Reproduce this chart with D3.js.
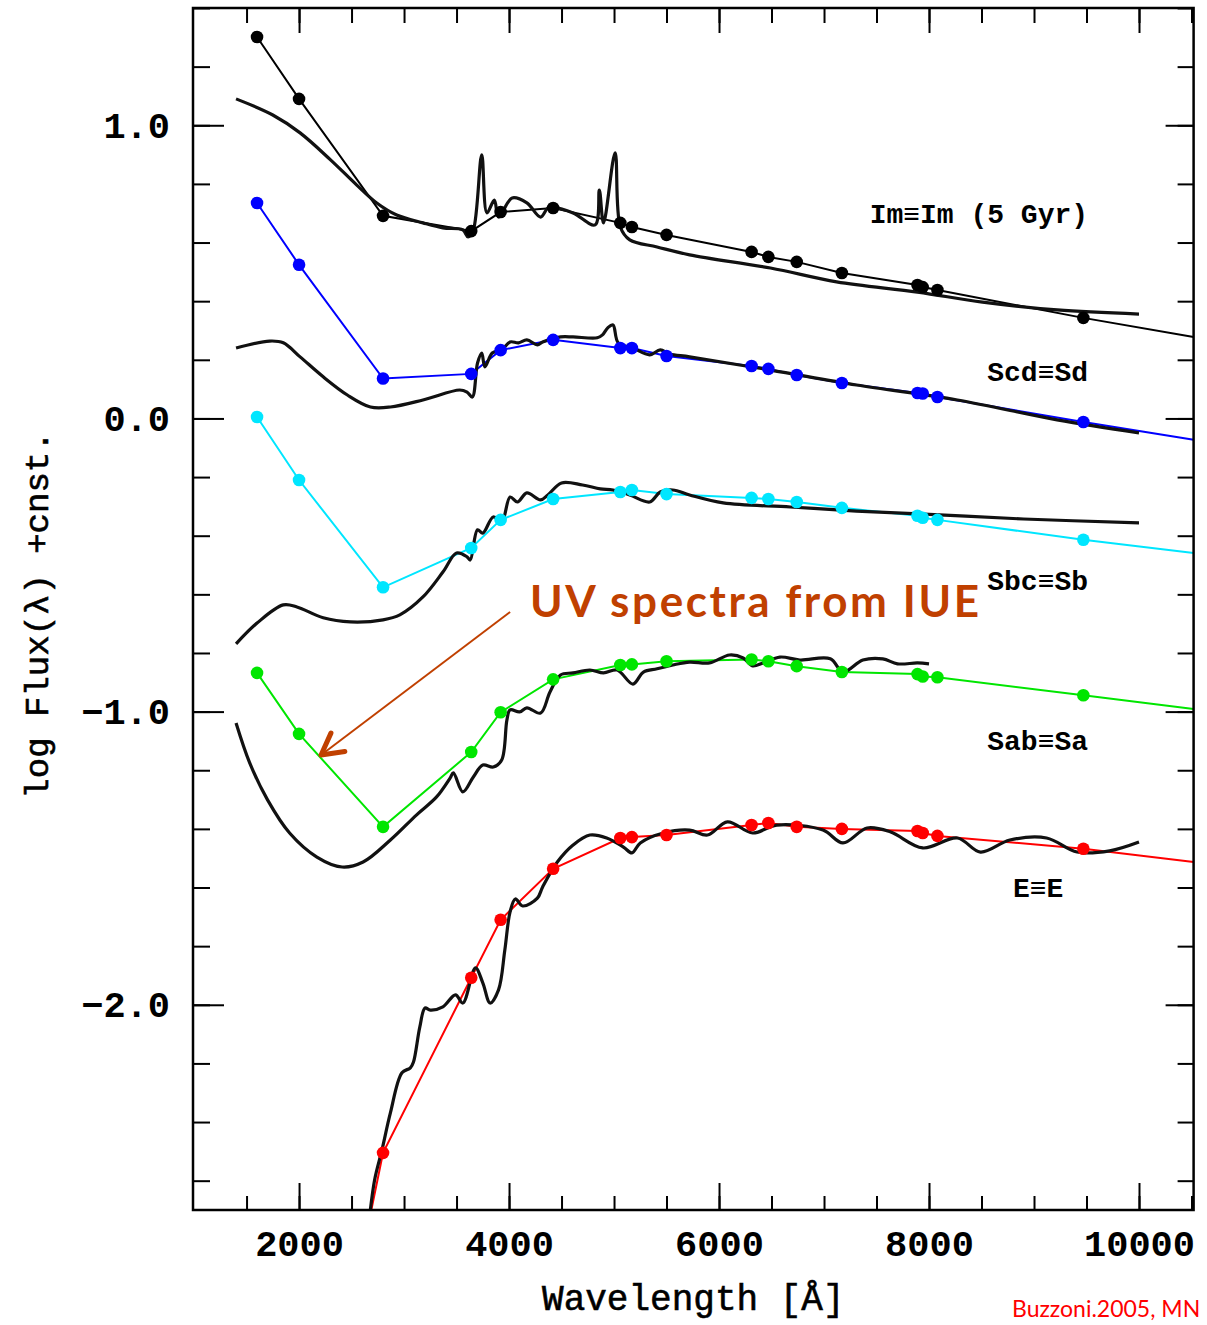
<!DOCTYPE html>
<html>
<head>
<meta charset="utf-8">
<script src="https://cdn.jsdelivr.net/npm/d3@7"></script>
<style>
  body { margin: 0; background: #fff; }
  svg { display: block; }
</style>
</head>
<body>
<div id="chart"></div>
<script>
// broad-band points: wavelengths in Angstrom
const bandWaves = [1600, 2000, 2800, 3640, 3920, 4420, 5060, 5170, 5500, 6310, 6470, 6740, 7170, 7890, 7940, 8080, 9470];

// log flux (+cnst.) at each band
const imBands  = [1.301, 1.090, 0.691, 0.639, 0.704, 0.718, 0.667, 0.653, 0.626, 0.568, 0.551, 0.534, 0.496, 0.455, 0.448, 0.438, 0.343];
const scdBands = [0.735, 0.524, 0.136, 0.152, 0.233, 0.268, 0.240, 0.240, 0.213, 0.179, 0.169, 0.148, 0.121, 0.087, 0.085, 0.073, -0.012];
const sbcBands = [0.005, -0.210, -0.576, -0.442, -0.346, -0.275, -0.251, -0.244, -0.258, -0.271, -0.275, -0.285, -0.305, -0.332, -0.339, -0.346, -0.414];
const sabBands = [-0.868, -1.076, -1.393, -1.138, -1.002, -0.890, -0.841, -0.839, -0.828, -0.822, -0.828, -0.845, -0.865, -0.872, -0.880, -0.883, -0.944];
const eBands   = [null, null, -2.505, -1.908, -1.710, -1.536, -1.431, -1.428, -1.421, -1.387, -1.380, -1.393, -1.400, -1.407, -1.414, -1.424, -1.468];

// the band lines run on out of the frame on the right (E also below)
const tailWave = 10520;
const bandTails = [0.278, -0.073, -0.459, -0.991, -1.513];
const eHead = [2660, -2.75];

// model spectra [wavelength, log flux]
const imModel = [[1400,1.090],[1750,1.035],[2010,0.974],[2300,0.882],[2550,0.796],[2740,0.735],[2930,0.694],[3180,0.667],
  [3370,0.650],[3560,0.643],[3610,0.619],[3660,0.643],[3740,0.899],[3790,0.701],[3860,0.745],[3900,0.687],[4030,0.752],
  [4170,0.735],[4300,0.687],[4370,0.718],[4420,0.720],[4610,0.701],[4820,0.660],[4860,0.779],[4900,0.667],[5010,0.906],
  [5060,0.653],[5150,0.609],[5410,0.585],[5720,0.558],[6490,0.513],[7120,0.466],[7890,0.431],[8510,0.397],[9220,0.370],[10000,0.356]];

const scdModel = [[1400,0.240],[1720,0.264],[1850,0.258],[2010,0.210],[2230,0.142],[2460,0.080],[2680,0.039],[2870,0.039],
  [3180,0.063],[3530,0.097],[3600,0.090],[3650,0.073],[3700,0.189],[3740,0.223],[3770,0.176],[3840,0.223],[3930,0.234],
  [4010,0.261],[4090,0.258],[4170,0.268],[4270,0.251],[4320,0.261],[4490,0.278],[4610,0.278],[4840,0.275],[4890,0.285],
  [4940,0.309],[4990,0.319],[5040,0.258],[5180,0.240],[5340,0.217],[5440,0.234],[5530,0.220],[5720,0.210],[6490,0.165],
  [7310,0.114],[8270,0.063],[9220,-0.005],[10000,-0.049]];

const sbcModel = [[1400,-0.769],[1600,-0.698],[1850,-0.636],[1980,-0.643],[2230,-0.680],[2490,-0.694],[2800,-0.687],[2960,-0.670],
  [3180,-0.609],[3370,-0.524],[3500,-0.459],[3600,-0.472],[3630,-0.483],[3700,-0.380],[3750,-0.391],[3850,-0.336],[3930,-0.353],
  [4010,-0.268],[4080,-0.285],[4170,-0.254],[4300,-0.278],[4370,-0.261],[4500,-0.220],[4700,-0.227],[4870,-0.240],[4990,-0.244],
  [5150,-0.261],[5340,-0.285],[5440,-0.251],[5560,-0.244],[5720,-0.261],[6040,-0.288],[6680,-0.302],[7310,-0.316],[8100,-0.329],
  [8900,-0.343],[10000,-0.356]];

const sabModel = [[1400,-1.039],[1530,-1.175],[1700,-1.301],[1910,-1.414],[2170,-1.496],[2410,-1.530],[2610,-1.513],[2870,-1.438],
  [3120,-1.352],[3310,-1.291],[3440,-1.226],[3470,-1.209],[3560,-1.274],[3660,-1.223],[3750,-1.182],[3850,-1.189],[3930,-1.165],
  [3980,-1.028],[4010,-0.994],[4100,-1.001],[4170,-0.987],[4300,-1.005],[4390,-0.933],[4490,-0.875],[4610,-0.868],[4770,-0.858],
  [4900,-0.868],[5030,-0.858],[5180,-0.906],[5280,-0.865],[5410,-0.854],[5560,-0.841],[5720,-0.831],[5910,-0.834],[6100,-0.807],
  [6230,-0.817],[6320,-0.844],[6420,-0.834],[6580,-0.814],[6770,-0.824],[7060,-0.820],[7180,-0.865],[7370,-0.824],[7560,-0.820],
  [7700,-0.837],[7890,-0.834],[8000,-0.837]];

const eModel = [[2660,-2.76],[2720,-2.597],[2790,-2.495],[2870,-2.369],[2980,-2.232],[3060,-2.215],[3090,-2.195],[3150,-2.076],
  [3200,-2.011],[3250,-2.018],[3370,-2.007],[3490,-1.966],[3560,-1.994],[3680,-1.874],[3750,-1.925],[3820,-1.994],[3900,-1.949],
  [3960,-1.813],[4010,-1.683],[4060,-1.639],[4130,-1.663],[4270,-1.636],[4320,-1.598],[4460,-1.513],[4610,-1.455],[4770,-1.421],
  [4930,-1.431],[5090,-1.462],[5170,-1.482],[5250,-1.448],[5470,-1.414],[5720,-1.404],[5890,-1.421],[6080,-1.376],[6320,-1.414],
  [6550,-1.387],[6990,-1.404],[7180,-1.448],[7410,-1.397],[7630,-1.410],[7940,-1.465],[8270,-1.431],[8490,-1.479],[8770,-1.438],
  [9120,-1.431],[9410,-1.479],[9720,-1.475],[10000,-1.445]];

const typeNames  = ["Im\u2261Im (5 Gyr)", "Scd\u2261Sd", "Sbc\u2261Sb", "Sab\u2261Sa", "E\u2261E"];
// label anchors (end of text) in data units
const labelWaves = [9515, 9515, 9515, 9515, 9280];
const labelFlux  = [0.667, 0.128, -0.585, -1.131, -1.632];

const xMajor = [2000, 4000, 6000, 8000, 10000];
const xMinor = d3.range(1500, 10501, 500);
const yMajor = [-2, -1, 0, 1];
const yMinor = d3.range(-2.6, 1.41, 0.2);

// annotation arrow (from, to) in data units
const arrowFrom = [4010, -0.660];
const arrowTo   = [2210, -1.148];

const colors = ["#000000", "#0000ff", "#00e6ff", "#00e600", "#ff0000"];

const W = 1207, H = 1325;
const x = d3.scaleLinear().domain([990, 10520]).range([193, 1193.6]);
const y = d3.scaleLinear().domain([-2.7, 1.4]).range([1210, 8]);

const svg = d3.select("#chart").append("svg")
    .attr("width", W)
    .attr("height", H)
    .style("background", "#fff");

svg.append("clipPath").attr("id", "frame")
  .append("rect")
    .attr("x", x(990)).attr("y", y(1.4))
    .attr("width", x(10520) - x(990)).attr("height", y(-2.7) - y(1.4));

const series = typeNames.map(function (name, i) {
    const bands = [imBands, scdBands, sbcBands, sabBands, eBands][i];
    const pts = bandWaves.map((w, j) => [w, bands[j]]).filter(d => d[1] !== null);
    const linePts = pts.slice();
    if (i === 4) linePts.unshift(eHead);
    linePts.push([tailWave, bandTails[i]]);
    return {name: name, color: colors[i], pts: pts, linePts: linePts,
            model: [imModel, scdModel, sbcModel, sabModel, eModel][i]};
});

const line = d3.line()
    .x(d => x(d[0]))
    .y(d => y(d[1]));

// model spectra are smooth, pass through the read points
const smooth = d3.line()
    .curve(d3.curveCatmullRom.alpha(0.5))
    .x(d => x(d[0]))
    .y(d => y(d[1]));

const plot = svg.append("g").attr("clip-path", "url(#frame)");

// broad-band lines
plot.selectAll(".band")
    .data(series)
    .enter().append("path")
    .attr("fill", "none")
    .attr("stroke", d => d.color)
    .attr("stroke-width", 2)
    .attr("d", d => line(d.linePts));

// model spectra
plot.selectAll(".model")
    .data(series)
    .enter().append("path")
    .attr("fill", "none")
    .attr("stroke", "#111")
    .attr("stroke-width", 3.2)
    .attr("stroke-linejoin", "round")
    .attr("d", d => smooth(d.model));

// band dots
series.forEach(function (s) {
    plot.selectAll(null)
        .data(s.pts)
        .enter().append("circle")
        .attr("cx", d => x(d[0]))
        .attr("cy", d => y(d[1]))
        .attr("r", 6.3)
        .attr("fill", s.color);
});

// axes, ticks pointing inwards on all four sides
const fmt = d3.format(".1f");
function tickAxis(axis, g, size, values, labels) {
    g.call(axis.tickValues(values).tickSize(-size).tickSizeOuter(0)
        .tickFormat(labels ? fmt : "").tickPadding(labels ? labels : 0));
    g.select(".domain").remove();
    g.selectAll("line").attr("stroke", "#000").attr("stroke-width", 2);
    return g;
}
const xLabelFmt = d3.format("d");

const gx = svg.append("g").attr("transform", "translate(0," + y(-2.7) + ")");
tickAxis(d3.axisBottom(x), gx.append("g"), 14, xMinor, 0);
tickAxis(d3.axisBottom(x), gx.append("g").attr("class", "xlab"), 27, xMajor, 20);
gx.selectAll(".xlab text").text(d => xLabelFmt(d));

const gxt = svg.append("g").attr("transform", "translate(0," + y(1.4) + ")");
tickAxis(d3.axisTop(x), gxt.append("g"), 15, xMinor, 0);
tickAxis(d3.axisTop(x), gxt.append("g"), 25, xMajor, 0);

const gy = svg.append("g").attr("transform", "translate(" + x(990) + ",0)");
tickAxis(d3.axisLeft(y), gy.append("g"), 17, yMinor, 0);
tickAxis(d3.axisLeft(y), gy.append("g").attr("class", "ylab"), 31, yMajor, 23);

const gyr = svg.append("g").attr("transform", "translate(" + x(10520) + ",0)");
tickAxis(d3.axisRight(y), gyr.append("g"), 16, yMinor, 0);
tickAxis(d3.axisRight(y), gyr.append("g"), 28, yMajor, 0);

svg.selectAll(".tick text")
    .attr("fill", "#000")
    .style("font-family", "'Liberation Mono', monospace")
    .style("font-weight", "bold")
    .style("font-size", "37px");

// frame
svg.append("rect")
    .attr("x", x(990)).attr("y", y(1.4))
    .attr("width", x(10520) - x(990)).attr("height", y(-2.7) - y(1.4))
    .attr("fill", "none")
    .attr("stroke", "#000")
    .attr("stroke-width", 2.5);

// axis titles
svg.append("text")
    .attr("x", (x(990) + x(10520)) / 2)
    .attr("y", 1310)
    .attr("text-anchor", "middle")
    .style("font-family", "'Liberation Mono', monospace")
    .style("font-size", "36px")
    .attr("stroke", "#000").attr("stroke-width", 0.6)
    .text("Wavelength [\u00C5]");

svg.append("text")
    .attr("transform", "translate(48,615) rotate(-90)")
    .attr("text-anchor", "middle")
    .style("font-family", "'Liberation Mono', monospace")
    .style("font-size", "34px")
    .attr("stroke", "#000").attr("stroke-width", 0.6)
    .text("log Flux(\u03BB) +cnst.");

// type labels
svg.selectAll(".typelab")
    .data(typeNames)
    .enter().append("text")
    .attr("x", (d, i) => x(labelWaves[i]))
    .attr("y", (d, i) => y(labelFlux[i]))
    .attr("text-anchor", "end")
    .style("font-family", "'Liberation Mono', monospace")
    .style("font-weight", "bold")
    .style("font-size", "28px")
    .text(d => d);

// IUE annotation
const orange = "#c04000";
svg.append("text")
    .attr("x", x(4200))
    .attr("y", y(-0.677))
    .attr("fill", orange)
    .style("font-family", "Lato, sans-serif")
    .style("font-weight", "bold")
    .style("font-size", "44px")
    .style("letter-spacing", "2.6px")
    .text("UV spectra from IUE");

const ax0 = x(arrowFrom[0]), ay0 = y(arrowFrom[1]);
const ax1 = x(arrowTo[0]),   ay1 = y(arrowTo[1]);
const ang = Math.atan2(ay1 - ay0, ax1 - ax0);
svg.append("line")
    .attr("x1", ax0).attr("y1", ay0)
    .attr("x2", ax1).attr("y2", ay1)
    .attr("stroke", orange).attr("stroke-width", 2);
svg.append("path")
    .attr("d", [-0.5, 0.5].map(function (da) {
        const a = ang + Math.PI + da;
        return "M" + ax1 + "," + ay1 + "L" + (ax1 + 24 * Math.cos(a)) + "," + (ay1 + 24 * Math.sin(a));
    }).join(""))
    .attr("fill", "none")
    .attr("stroke", orange)
    .attr("stroke-width", 5)
    .attr("stroke-linecap", "round");

svg.append("text")
    .attr("x", 1012)
    .attr("y", 1317)
    .attr("fill", "#ff0000")
    .style("font-family", "Lato, sans-serif")
    .style("font-size", "23px")
    .text("Buzzoni.2005, MN");
</script>
</body>
</html>
